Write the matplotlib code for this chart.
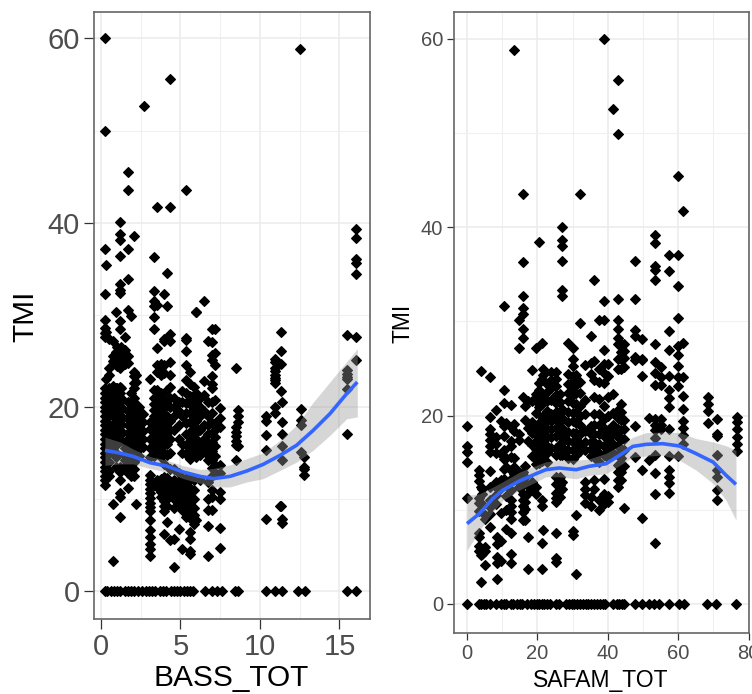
import matplotlib
matplotlib.use('Agg')
import matplotlib.pyplot as plt

plt.rcParams['font.family'] = ['Liberation Sans', 'DejaVu Sans']

W, H = 752, 694

# left panel, columns of points
bass_col_x = [0.25, 0.25, 0.33, 0.5, 0.75, 0.92, 1.0, 1.17, 1.25, 1.5, 1.72, 1.89, 2.08, 2.18, 2.4, 2.65,
              3.1, 3.33, 3.54, 3.75, 3.98, 4.17, 4.36, 4.62, 4.9, 5.1, 5.35, 5.6, 5.85, 6.0, 6.2, 6.48,
              6.75, 7.0, 7.17, 7.5, 8.47, 8.6, 10.4, 10.95, 11.3, 11.4, 12.6, 12.8, 15.5, 16.05]
bass_col_y = [
    [60, 50, 37.1, 32.3, 29.4, 28.6, 28, 27.6, 20.5, 20, 19.5, 19, 18.5, 18, 17.5, 17, 16.5, 16, 15.5, 15, 14.5, 14, 13.5, 13, 12.5, 12, 11.5],
    [22, 21, 21.5],
    [35.4, 28.1, 23],
    [27.4, 24.2, 23.5, 22, 21.5, 21, 20, 19, 18, 17.5, 17, 16.5, 16, 15, 14, 13, 12.5],
    [27.1, 25.5, 25, 22.3, 21.5, 20.5, 19.5, 19, 18, 17, 16.5, 15.5, 9.5, 3.3],
    [30.3, 26, 25.2, 24.6, 22, 21, 20.5, 20, 19, 18.5, 18, 17, 16, 15, 14.5, 13.5],
    [26.5, 25.8, 25, 24.4, 22, 21, 20, 19, 18, 17, 16],
    [40.1, 38.8, 38.1, 36.4, 33.3, 32.7, 32.4, 29.3, 28.5, 26.2, 25.5, 24.8, 24.2, 22.1, 21.5, 20.5, 19.5, 18.5, 17.5, 17, 16.5, 13.5, 12.9, 12, 10.6, 10.2, 8],
    [26.5, 25.6, 24.8, 22, 21, 20, 19, 18, 17],
    [27.6, 26.2, 25.5, 24.7, 16, 15.5, 14.8, 14.2, 13.6],
    [45.5, 43.5, 37.1, 33.9, 30.5, 25.5, 24.8, 20.5, 19.5, 18.8, 18, 17.2, 16.5, 15.8, 15, 14.2, 13.5, 12.8, 11.2],
    [29.9, 21.5, 20.5, 19.5, 18.5, 18, 17, 16, 15, 14, 13.2, 12.5],
    [38.5, 23.8, 23.3, 22.6, 22, 21, 20.5, 20, 19.3, 18.6, 18, 17.2, 16.5, 15.5, 14.8, 14, 13.2, 12.5],
    [23.5, 22.7, 19.5, 18.5, 17.5, 16.5, 15.5, 9.5],
    [20, 19, 18, 17, 16, 15.4, 14.7],
    [19.2, 18.3, 17.4, 16.5, 15.6],
    [23, 18.3, 17.6, 16.5, 15.5, 14.6, 12.6, 12.1, 11.6, 11.1, 10.6, 10.1, 9.6, 9.1, 8.7, 7.7, 6.6, 5.9, 5.1, 4.6, 3.8],
    [36.3, 32.6, 31.5, 31, 29.7, 28.4, 21.8, 21, 20.3, 19.6, 19, 18.2, 17.5, 16.8, 16, 15.3, 14.7],
    [41.7, 31.1, 26.4, 24.5, 23.8, 21.8, 21, 20, 19, 18.2, 17.5, 16.7, 16, 15.2, 12, 11.3],
    [24.7, 24.2, 23.5, 21.5, 20.5, 19.5, 18.5, 17.5, 16.5, 15.5, 14.5, 12.2, 11.5, 10.8, 10.2],
    [32.3, 27.4, 27.2, 24.5, 23.7, 21, 20, 19, 18, 17, 16, 15, 13.8, 12.4, 11.8, 11.1, 10.4, 9.8, 9.2, 8.7, 6.2],
    [34.5, 30.9, 21.8, 20.2, 19, 17.5, 16, 14.8, 12.3, 11, 10, 9.2, 7.5],
    [55.6, 41.7, 27.9, 27.1, 24.9, 23.5, 22.2, 21, 20, 18.5, 17.5, 16.5, 15, 13.2, 11.5, 10.5, 5.5],
    [21, 20, 19, 17.5, 13.2, 12, 11, 10, 9, 5.7, 2.6],
    [20.5, 19.5, 18, 16.5, 12.8, 11.5, 10.5, 9.5, 6.7],
    [21.7, 20.5, 19, 16, 15, 12.3, 11.3, 10.2, 9.2, 8.8, 4.6],
    [43.5, 27.5, 27.3, 26.1, 24.5, 22.9, 21.5, 20.4, 19.3, 18.2, 17, 15.9, 14.9, 12.3, 11.5, 10.7, 10, 9.2, 8.5, 8],
    [23.8, 22.5, 21.2, 20.3, 19.3, 18.3, 17.3, 16.3, 15.3, 14.3, 12.2, 11.2, 10.2, 9.4, 8.6, 7.9, 6.4, 5.7, 4.3, 4],
    [22.1, 20.9, 19.9, 18.9, 17.9, 16.9, 15.9, 14.9, 12, 11, 10, 9, 8.2, 7.3],
    [30.3, 21.5, 20.5, 19.5, 18.5, 17.5, 16.5, 15.5, 14.5, 7.7],
    [21, 20, 19, 17.5, 16, 14.8, 12],
    [31.5, 22.8, 21.3, 19.5, 18, 16.5, 15.2],
    [27.2, 20.5, 19, 18, 17, 15.9, 14.8, 14.2, 11.8, 10, 8.8, 7.1, 3.8],
    [28.5, 27, 25.6, 25.1, 23.3, 22.5, 22, 20.5, 19.3, 18.2, 17.2, 16.2, 15.2, 14.2, 13.4, 12.5, 11, 10.2, 8.8],
    [28.4, 25.8, 24.5, 20.7, 18.2, 17.5, 16.7, 15.7, 14.7, 13.7, 12.8],
    [19.9, 18.8, 17.8, 13.7, 12.8, 10.8, 10, 6.8, 4.7],
    [24.2, 17.8, 17.3, 16.8, 16.3, 15.8, 14.2],
    [19.7, 19, 18.3, 15.7],
    [19, 18.5, 16.9, 15.3, 7.8],
    [25.2, 24.9, 24.2, 23.9, 23.5, 23.1, 22.9, 22.6, 20, 19.3],
    [28.1, 26.1, 24.7, 21.7, 9.2],
    [20.5, 18.4, 17, 15.7, 14.2, 7.8, 7.4],
    [19.8, 18.6, 18, 15.1],
    [14.5, 13.5, 13.2, 12.6],
    [27.8, 24, 23.6, 23.2, 23, 21.9, 17],
    [39.3, 38.3, 36, 35.6, 34.4, 27.6, 25.1],
]
extra_bass_x = [2.7, 12.5, 6.0, 11.27]
extra_bass_y = [52.7, 58.9, 30.3, 9.2]
bass_zero_x = [0.25, 0.4, 0.6, 0.8, 1.0, 1.2, 1.5, 1.7, 1.9, 2.1, 2.3, 2.6, 2.8, 3.0, 3.2, 3.4, 3.7, 3.9,
               4.1, 4.4, 4.6, 4.8, 5.0, 5.2, 5.4, 5.6, 5.8, 6.54, 6.96, 7.27, 7.59, 8.43, 8.64,
               10.36, 10.94, 11.37, 12.41, 12.83, 15.49, 16.04]

bass_fit_x = [0.25, 1.19, 2.03, 3.08, 4.13, 5.18, 6.23, 7.07, 8.12, 9.17, 10.2, 11.26, 12.3, 13.35, 14.4, 15.45, 16.12]
bass_fit_y = [15.27, 14.98, 14.62, 13.93, 13.57, 12.92, 12.45, 12.2, 12.45, 13.03, 13.75, 14.73, 15.82, 17.45, 19.25, 21.42, 22.69]
bass_hi = [16.7, 16.2, 15.4, 14.6, 14.2, 13.6, 13.2, 13.3, 13.7, 14.37, 15.0, 16.36, 18.0, 20.5, 22.7, 24.9, 26.3]
bass_lo = [13.65, 13.8, 13.8, 13.3, 12.9, 12.2, 11.7, 11.3, 11.3, 11.84, 12.2, 13.1, 14.0, 15.3, 16.9, 18.7, 18.9]

# right panel
safam_col_x = [0.0, 3.5, 4.0, 4.3, 5.0, 6.4, 8.2, 8.4, 9.7, 10.6, 11.1, 12.5, 13.4, 14.7, 15.9, 16.6, 17.2, 18.4,
               19.6, 20.5, 21.2, 21.7, 22.8, 23.8, 25.3, 26.4, 27.1, 28.6, 30.0, 31.0, 32.2, 33.5, 35.3, 36.2, 37.5,
               39.0, 40.0, 41.5, 42.8, 43.7, 44.7, 47.7, 49.6, 51.8, 53.5, 55.0, 57.4, 60.0, 61.4, 68.4, 70.9, 76.6]
safam_col_y = [
    [18.9, 16.8, 16.1, 15.1, 11.3],
    [14.2, 13.7, 13.1, 11.2, 10.7, 9.9, 7.5, 7.1, 6.2, 5.6],
    [24.7, 12.4, 2.3, 5.2],
    [12.2, 11.7, 10.6, 5.3],
    [9.5, 9, 6, 5.6, 4.1],
    [24.1, 19.9, 18.6, 18, 17.4, 16.8, 16.1, 14.1, 12.4, 11, 10.3, 9.6, 8.2],
    [20.6, 17.7, 17, 16, 13, 12.4, 11.6, 10.6],
    [7.1, 6.4, 5, 4.3, 2.7],
    [19.4, 15.9, 13.2, 12.3, 9.7, 6.7, 4.6],
    [31.6, 22.7, 21.3, 18.9, 17.8, 16.3, 15.4, 14.3, 13.3],
    [19.2, 15.5, 14.5, 12.9, 11.5, 8, 10],
    [21.1, 18.8, 17.3, 16.8, 15.6, 14.2, 13.3, 12.1, 11, 10.4, 9.8, 9, 7.5, 5.3, 4.4],
    [58.8, 19.1, 18.4, 15.5, 14.5, 13.8],
    [30.2, 27.2, 18, 17.4, 14, 13.4, 13, 12.4],
    [43.5, 36.3, 32.7, 31.4, 30.8, 29.2, 28.2, 22, 14, 13.3, 12.6, 11.7, 11, 10.4, 9.8, 8.9],
    [21, 19.5, 14.6, 13.5, 12.8, 11.5, 10.8, 10.1, 8.9],
    [21.5, 18.7, 17.3, 12.5, 11.8, 7.1, 3.7],
    [24.8, 21.5, 19.3, 18.2, 16.9, 15.7, 13, 12.2],
    [27.2, 22.3, 21.5, 20.3, 18.8, 18, 17.3, 16.5, 15.4, 14.9, 12.4, 11.7],
    [38.4, 23.5, 22.7, 21.8, 20.9, 19.2, 18.3, 17.6, 16.7, 15.8, 15],
    [27.7, 23.9, 22.1, 21.2, 19.9, 18.7, 17.8, 17, 16, 15.2, 11, 10.4, 3.7, 6.5],
    [25, 24.3, 21.5, 20, 19.3, 18.5, 17.6, 16.6, 15.8, 7.9],
    [23.4, 22.5, 21.5, 20.5, 19.5, 18.6, 17.7, 16.8, 16, 15.1],
    [24.6, 23.8, 22.9, 21.7, 20.2, 19.4, 18.6, 17.7, 16.6],
    [24.6, 23.9, 23.1, 22.2, 21.3, 20.4, 19.5, 18.7, 17.8, 16.6, 15.8, 13.5, 12.7, 11.8, 11.3, 10.8, 7.5, 4.9, 4.5],
    [22.3, 21.4, 20.3, 19.3, 18.2, 17, 15.8, 13.5, 12.6, 12, 11.4],
    [40, 38.6, 38, 36.4, 33.3, 32.7, 20.7, 19.7, 18.7, 17.7, 16.7, 15.8, 12.9, 12.2],
    [27.7, 24.4, 23.4, 22.4, 21.5, 20.4, 19.3, 18.3, 17.3, 16.3, 15.5],
    [27.2, 26, 25.3, 24.2, 23.7, 23, 22.2, 21.3, 20.3, 19.4, 18.2, 17.2, 16.3, 15.4, 7.8, 7.3],
    [24.3, 23.3, 22.4, 21.2, 20.4, 19.2, 18.2, 17.5, 16.5, 15.8, 9.4, 3.2],
    [43.5, 29.8, 23.6, 22.4, 21, 20, 19, 18, 17, 16.2],
    [25.4, 21.7, 20.2, 18.4, 17.2, 16.3, 13, 12.2, 11.6, 10.7],
    [28.4, 25.6, 24.4, 18.9, 18, 17.2, 16.5, 15.7, 11.4, 10.4],
    [34.4, 25.8, 23.8, 22, 20.2, 19, 18, 17.2, 16.4, 15.6, 13.2, 12.2],
    [30.2, 25, 23.6, 21.8, 20.2, 19, 18, 17, 16, 15.1, 10, 11],
    [60, 32.2, 30.2, 27, 25.5, 24.5, 23.5, 21, 19.6, 18.7, 17.8, 16.8, 15.8, 13.3, 11.7, 11, 10.6],
    [25.5, 24.2, 22, 20, 18.5, 17.4, 16.4, 15.5, 11.5, 10.8],
    [52.6, 22.3, 20.3, 19, 18, 17, 16],
    [55.6, 49.9, 32.4, 30.2, 29.2, 28.2, 27.6, 26, 25, 20.6, 19.7, 18.6, 17.7, 16.8, 15.8, 14.8, 14, 13.2, 12.4],
    [27.6, 26.7, 26, 25, 21.2, 20.4, 19.5, 18.5, 17.5, 16.5, 15.5, 14, 13.2],
    [27.6, 26.9, 26.1, 25.2, 19.5, 18.6, 17.5, 16.4, 14.6, 10.2],
    [36.4, 32.4, 29.1, 28.4, 26.2, 25.9, 18.9, 15.6],
    [28.1, 26, 25.9, 24.2, 14.2, 9.1],
    [19.7, 15.3],
    [39.2, 38.3, 35.9, 35.5, 34.4, 27.6, 25.7, 24.5, 23.2, 19.6, 19, 18.5, 17.6, 15.8, 13.9, 6.5, 11.7],
    [25.2, 24.1, 23.2, 19, 19.6, 18.6],
    [37, 35.3, 29, 27, 24.2, 22.7, 21.9, 20.9, 18.6, 15.7, 14.2, 13.5, 12.8, 11.8],
    [45.4, 37, 33.8, 30.4, 27.4, 26.4, 25.3, 24.1, 23.1, 15.7],
    [41.7, 27.7, 24.1, 22.1, 20.7, 19.4, 18.7, 17.9, 17],
    [22, 21.2, 20.5, 19.2],
    [19.6, 18, 17.8, 15.8, 14.2, 13.5, 12.1, 11],
    [19.8, 19.3, 18.6, 17.7, 17, 16.2],
]
safam_zero_x = [0.0, 3.5, 4.1, 4.7, 5.3, 6.6, 8.2, 9.6, 10.5, 11.2, 12.4, 13.2, 14.2, 15.0, 15.6, 17.0, 18.2,
                19.0, 19.8, 20.5, 21.2, 22.0, 22.8, 23.6, 25.2, 26.0, 28.0, 28.9, 29.7, 30.5, 31.3, 32.1, 32.9,
                33.7, 34.5, 35.3, 36.1, 36.9, 37.7, 38.5, 39.3, 41.5, 42.5, 43.3, 44.0, 44.7,
                47.6, 49.6, 51.8, 53.2, 54.6, 57.5, 60.1, 61.5, 68.2, 70.7, 76.4]

safam_fit_x = [0, 3.5, 7.3, 10.1, 14.9, 19.6, 22.4, 26.2, 31, 34.7, 39.5, 43.3, 47.1, 50.9, 55.6, 60.4, 65.1, 69.9, 73.6, 76.4]
safam_fit_y = [8.53, 9.59, 11.18, 12.07, 13.06, 13.83, 14.26, 14.44, 14.26, 14.62, 14.89, 15.78, 16.73, 16.95, 17.02, 16.77, 15.96, 15.07, 13.66, 12.7]
safam_hi = [11.54, 11.7, 12.4, 12.97, 14.0, 14.7, 15.1, 15.26, 15.26, 15.4, 16.0, 16.8, 17.7, 18.2, 18.25, 18.2, 17.56, 17.2, 16.8, 16.3]
safam_lo = [5.7, 7.8, 9.77, 10.99, 12.1, 12.96, 13.5, 13.5, 13.3, 13.66, 13.83, 14.7, 15.6, 15.7, 15.8, 15.26, 14.2, 12.8, 11.0, 8.9]


def flatten(col_x, col_y, zero_x):
    xs, ys = [], []
    for cx, cy in zip(col_x, col_y):
        for v in cy:
            xs.append(cx)
            ys.append(v)
    for z in zero_x:
        xs.append(z)
        ys.append(0)
    return xs, ys


def panel(fig, box, xs, ys, fit_x, fit_y, hi, lo, xlim, ylim, xmaj, xmin, tick_size, tick_len):
    l, t, r, b = box
    ax = fig.add_axes([l / W, 1 - b / H, (r - l) / W, (b - t) / H])
    ax.set_xlim(xlim)
    ax.set_ylim(ylim)
    ax.set_xticks(xmaj)
    ax.set_xticks(xmin, minor=True)
    ax.set_yticks([0, 20, 40, 60])
    ax.set_yticks([10, 30, 50], minor=True)
    ax.grid(True, which='major', color='#ebebeb', lw=1.1)
    ax.grid(True, which='minor', color='#f0f0f0', lw=0.8)
    ax.set_axisbelow(True)
    ax.tick_params(which='major', labelsize=tick_size, labelcolor='#4d4d4d', color='#333333',
                   length=tick_len, width=0.9, pad=3)
    ax.tick_params(which='minor', length=0)
    for s in ax.spines.values():
        s.set_color('#666666')
        s.set_linewidth(1.2)
    ax.scatter(xs, ys, marker='D', s=24, color='black', linewidths=1.0, edgecolors='black', zorder=2)
    ax.fill_between(fit_x, lo, hi, color='#999999', alpha=0.4, lw=0, zorder=3)
    ax.plot(fit_x, fit_y, color='#3366FF', lw=2.6, zorder=4, solid_capstyle='butt')
    return ax


fig = plt.figure(figsize=(W / 100, H / 100), dpi=100)

bx, by = flatten(bass_col_x, bass_col_y, bass_zero_x)
bx += extra_bass_x
by += extra_bass_y
panel(fig, (94, 12, 370, 619), bx, by, bass_fit_x, bass_fit_y, bass_hi, bass_lo,
      (-0.44, 16.92), (-3.04, 62.87), [0, 5, 10, 15], [2.5, 7.5, 12.5], 21, 7)

sx, sy = flatten(safam_col_x, safam_col_y, safam_zero_x)
panel(fig, (454, 12, 749, 633), sx, sy, safam_fit_x, safam_fit_y, safam_hi, safam_lo,
      (-3.7, 80.1), (-3.08, 62.85), [0, 20, 40, 60, 80], [10, 30, 50, 70], 14.5, 5)

fig.text(231 / W, 1 - 678 / H, 'BASS_TOT', fontsize=21.5, ha='center', va='center', color='black')
fig.text(25 / W, 1 - 316 / H, 'TMI', fontsize=21.5, rotation=90, ha='center', va='center', color='black')
fig.text(601 / W, 1 - 681 / H, 'SAFAM_TOT', fontsize=16.5, ha='center', va='center', color='black')
fig.text(403 / W, 1 - 323 / H, 'TMI', fontsize=16.5, rotation=90, ha='center', va='center', color='black')

fig.savefig('out.png', dpi=100)
